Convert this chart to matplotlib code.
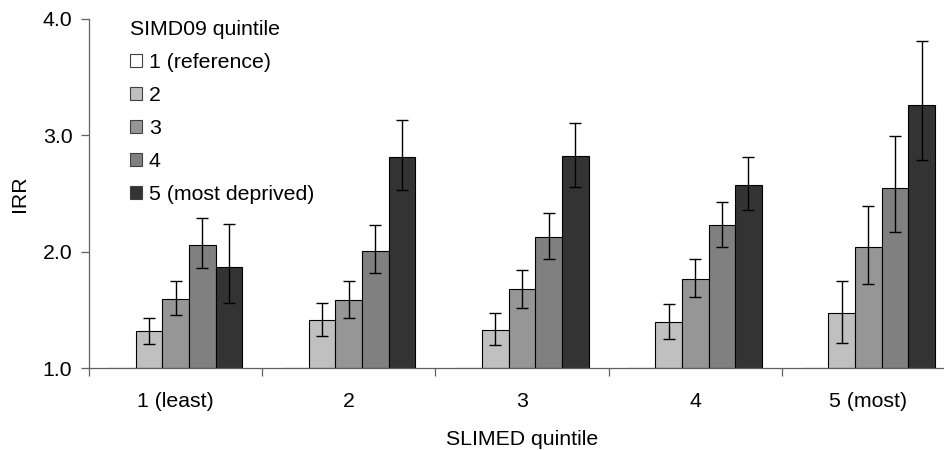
import matplotlib.pyplot as plt
import numpy as np

# -------------------- Data -------------------- #

slimed_labels = ["1 (least)", "2", "3", "4", "5 (most)"]
simd_labels = ["1 (reference)", "2", "3", "4", "5 (most deprived)"]

# IRR per SIMD09 quintile (rows) for each SLIMED quintile (columns)
irr_q1 = [1.00, 1.00, 1.00, 1.00, 1.00]
irr_q2 = [1.32, 1.41, 1.33, 1.395, 1.47]
irr_q3 = [1.595, 1.585, 1.68, 1.765, 2.04]
irr_q4 = [2.06, 2.01, 2.13, 2.23, 2.55]
irr_q5 = [1.87, 2.81, 2.82, 2.575, 3.265]

# 95% CI lower / upper
low_q2 = [1.21, 1.275, 1.20, 1.25, 1.215]
up_q2 = [1.43, 1.56, 1.475, 1.55, 1.75]
low_q3 = [1.455, 1.43, 1.52, 1.61, 1.72]
up_q3 = [1.75, 1.75, 1.84, 1.94, 2.39]
low_q4 = [1.86, 1.82, 1.94, 2.04, 2.17]
up_q4 = [2.29, 2.23, 2.33, 2.43, 2.99]
low_q5 = [1.56, 2.53, 2.56, 2.36, 2.79]
up_q5 = [2.24, 3.13, 3.11, 2.81, 3.81]

colors = ["#FFFFFF", "#C0C0C0", "#969696", "#808080", "#333333"]

# -------------------- Plot -------------------- #

plt.rcParams["font.family"] = ["Liberation Sans", "DejaVu Sans"]
plt.rcParams["font.size"] = 15.3

fig = plt.figure(figsize=(9.45, 4.5), dpi=100)
ax = fig.add_axes([89 / 945, (450 - 368) / 450, 866 / 945, 349 / 450])

values = [irr_q1, irr_q2, irr_q3, irr_q4, irr_q5]
lows = [None, low_q2, low_q3, low_q4, low_q5]
ups = [None, up_q2, up_q3, up_q4, up_q5]

n_groups = len(slimed_labels)
n_series = len(simd_labels)
x = np.arange(n_groups)
bar_w = 1.0 / (n_series + 1.5)
offsets = (np.arange(n_series) - (n_series - 1) / 2) * bar_w

handles = []
for i in range(n_series):
    vals = np.array(values[i])
    bars = ax.bar(
        x + offsets[i],
        vals - 1.0,
        bottom=1.0,
        width=bar_w,
        color=colors[i],
        edgecolor="black",
        linewidth=0.8,
        label=simd_labels[i],
        zorder=2,
    )
    handles.append(bars)
    if lows[i] is not None:
        err = [vals - np.array(lows[i]), np.array(ups[i]) - vals]
        ax.errorbar(
            x + offsets[i],
            vals,
            yerr=err,
            fmt="none",
            ecolor="black",
            elinewidth=1.0,
            capsize=4.2,
            capthick=1.0,
            zorder=3,
        )

ax.set_xlim(-0.5, n_groups - 0.5)
ax.set_ylim(1.0, 4.0)
ax.set_yticks([1.0, 2.0, 3.0, 4.0])
ax.set_yticklabels(["1.0", "2.0", "3.0", "4.0"])
ax.set_xticks(x)
ax.set_xticklabels(slimed_labels)
ax.set_xticks(np.arange(-0.5, n_groups, 1.0), minor=True)
ax.tick_params(axis="x", which="major", length=0, pad=17)
ax.tick_params(axis="x", which="minor", length=6, width=0.9, color="#606060")
ax.tick_params(axis="y", length=6, width=0.9, color="#606060", pad=6)

for side in ["top", "right"]:
    ax.spines[side].set_visible(False)
for side in ["left", "bottom"]:
    ax.spines[side].set_color("#606060")
    ax.spines[side].set_linewidth(0.9)

ax.set_ylabel("IRR", labelpad=10)
ax.set_xlabel("SLIMED quintile", labelpad=14)

leg = ax.legend(
    handles=handles,
    title="SIMD09 quintile",
    loc="upper left",
    bbox_to_anchor=(0.037, 1.022),
    frameon=False,
    handlelength=0.6,
    handleheight=0.6,
    handletextpad=0.3,
    labelspacing=0.66,
    borderaxespad=0,
)
leg._legend_box.align = "left"
for patch in leg.get_patches():
    patch.set_edgecolor("#404040")

fig.savefig("out.png", dpi=100)
